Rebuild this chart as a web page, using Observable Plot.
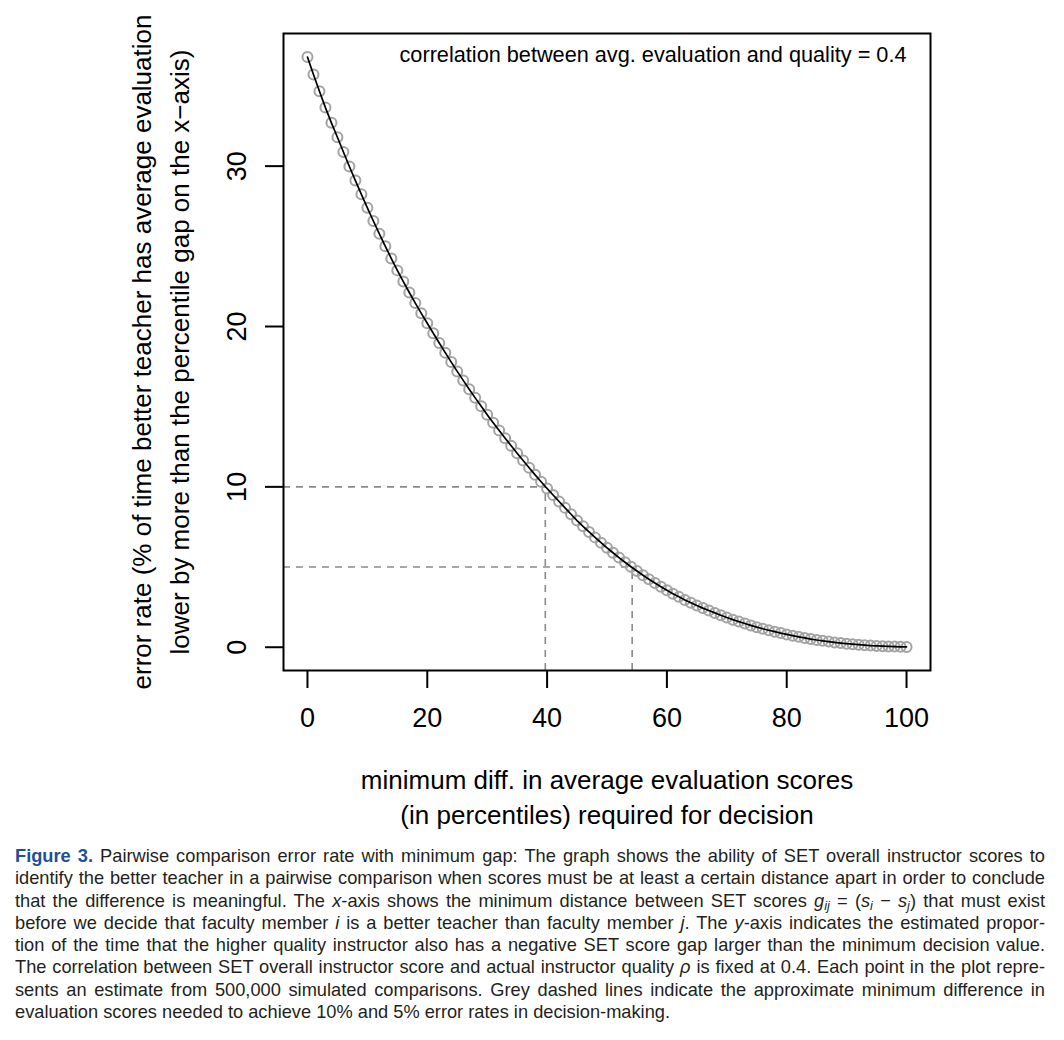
<!DOCTYPE html>
<html>
<head>
<meta charset="utf-8">
<script src="https://cdn.jsdelivr.net/npm/d3@7"></script>
<script src="https://cdn.jsdelivr.net/npm/@observablehq/plot@0.6"></script>
<style>
  html, body { margin: 0; padding: 0; background: #fff; }
  #chart svg { display: block; }
  #cap {
    font-family: "Liberation Sans", Arial, sans-serif;
    font-size: 19px;
    line-height: 22.3px;
    color: #231f20;
    margin-left: 15px;
    transform-origin: 0 0;
  }
  #cap .ln { white-space: nowrap; display: block; }
  #cap .ln span.in { display: inline-block; transform-origin: 0 50%; }
  #cap .fig { color: #1f4e9c; font-weight: bold; }
  #cap sub { font-size: 70%; vertical-align: -0.25em; line-height: 0; }
</style>
</head>
<body>
<div id="chart"></div>
<div id="cap"></div>
<script>
// ---------- data ----------
const gap = [0,1,2,3,4,5,6,7,8,9,10,11,12,13,14,15,16,17,18,19,20,21,22,23,24,25,26,27,28,29,30,
  31,32,33,34,35,36,37,38,39,40,41,42,43,44,45,46,47,48,49,50,51,52,53,54,55,56,57,58,59,60,
  61,62,63,64,65,66,67,68,69,70,71,72,73,74,75,76,77,78,79,80,81,82,83,84,85,86,87,88,89,90,
  91,92,93,94,95,96,97,98,99,100];
const errorRate = [36.8,35.72,34.67,33.65,32.7,31.8,30.88,29.98,29.1,28.24,27.4,
  26.58,25.78,25.0,24.24,23.5,22.8,22.12,21.46,20.82,20.2,
  19.58,18.97,18.37,17.78,17.2,16.64,16.09,15.55,15.02,14.5,
  14.0,13.51,13.03,12.56,12.1,11.64,11.19,10.75,10.32,9.9,
  9.49,9.09,8.69,8.29,7.9,7.54,7.19,6.85,6.52,6.2,
  5.89,5.59,5.3,5.02,4.75,4.49,4.24,4.0,3.77,3.55,
  3.34,3.14,2.95,2.77,2.6,2.44,2.29,2.14,1.99,1.85,
  1.72,1.6,1.48,1.36,1.25,1.15,1.06,0.97,0.88,0.8,
  0.72,0.65,0.58,0.51,0.45,0.4,0.35,0.3,0.26,0.22,
  0.19,0.16,0.13,0.1,0.08,0.064,0.05,0.038,0.028,0.02];
const refRates = [10, 5];
const refGaps = [39.7, 54.2];
const xTicks = [0, 20, 40, 60, 80, 100];
const yTicks = [0, 10, 20, 30];
const annotation = ["correlation between avg. evaluation and quality = 0.4"];
const xTitle = ["minimum diff. in average evaluation scores", "(in percentiles) required for decision"];
const yTitle = ["error rate (% of time better teacher has average evaluation", "lower by more than the percentile gap on the x\u2212axis)"];
const captionLines = [
  '<span class="fig">Figure 3.</span> Pairwise comparison error rate with minimum gap: The graph shows the ability of SET overall instructor scores to',
  'identify the better teacher in a pairwise comparison when scores must be at least a certain distance apart in order to conclude',
  'that the difference is meaningful. The <i>x</i>-axis shows the minimum distance between SET scores <i>g<sub>ij</sub></i> = (<i>s<sub>i</sub></i> \u2212 <i>s<sub>j</sub></i>) that must exist',
  'before we decide that faculty member <i>i</i> is a better teacher than faculty member <i>j</i>. The <i>y</i>-axis indicates the estimated propor-',
  'tion of the time that the higher quality instructor also has a negative SET score gap larger than the minimum decision value.',
  'The correlation between SET overall instructor score and actual instructor quality <i>\u03c1</i> is fixed at 0.4. Each point in the plot repre-',
  'sents an estimate from 500,000 simulated comparisons. Grey dashed lines indicate the approximate minimum difference in',
  'evaluation scores needed to achieve 10% and 5% error rates in decision-making.'
];

// ---------- chart ----------
const data = gap.map((g, i) => ({g, e: errorRate[i]}));
const refs = refRates.map((t, i) => ({t, g: refGaps[i]}));
const pad = ([a, b]) => [a - 0.04 * (b - a), b + 0.04 * (b - a)];
const xDom = pad(d3.extent(gap));
const yDom = pad(d3.extent(errorRate));
const FONT = '"Liberation Sans", Arial, Helvetica, sans-serif';

const chart = Plot.plot({
  width: 1064,
  height: 845,
  marginLeft: 283,
  marginRight: 134,
  marginTop: 33,
  marginBottom: 175,
  style: {fontFamily: FONT, background: "#fff", color: "#000"},
  x: {domain: xDom},
  y: {domain: yDom},
  marks: [
    Plot.ruleY(refs, {y: "t", x1: xDom[0], x2: "g", stroke: "#8a8a8a", strokeWidth: 1.6, strokeDasharray: "7,6"}),
    Plot.ruleX(refs, {x: "g", y1: yDom[0], y2: "t", stroke: "#8a8a8a", strokeWidth: 1.6, strokeDasharray: "7,6"}),
    Plot.dot(data, {x: "g", y: "e", r: 5, stroke: "#a3a3a3", strokeWidth: 2, fill: "none"}),
    Plot.line(data, {x: "g", y: "e", stroke: "#000", strokeWidth: 1.7}),
    Plot.frame({stroke: "#000", strokeWidth: 2}),
    Plot.axisX(xTicks, {tickSize: 18, tickPadding: 19, fontSize: 27, label: null, strokeWidth: 2}),
    Plot.axisY(yTicks, {tickSize: 18, tickFormat: () => "", label: null, strokeWidth: 2}),
    Plot.text(yTicks, {y: d => d, frameAnchor: "left", dx: -46, rotate: -90, textAnchor: "middle", lineAnchor: "middle", text: d => String(d), fontSize: 27}),
    Plot.text(annotation, {frameAnchor: "top-right", dx: -24, dy: 22, textAnchor: "end", lineAnchor: "middle", text: d => d, fontSize: 21.7}),
    Plot.text([xTitle[0]], {frameAnchor: "bottom", dy: 110, textAnchor: "middle", lineAnchor: "middle", text: d => d, fontSize: 26}),
    Plot.text([xTitle[1]], {frameAnchor: "bottom", dy: 145, textAnchor: "middle", lineAnchor: "middle", text: d => d, fontSize: 26}),
    Plot.text([yTitle[0]], {frameAnchor: "left", dx: -141, rotate: -90, textAnchor: "middle", lineAnchor: "middle", text: d => d, fontSize: 26}),
    Plot.text([yTitle[1]], {frameAnchor: "left", dx: -103, rotate: -90, textAnchor: "middle", lineAnchor: "middle", text: d => d, fontSize: 26})
  ]
});
document.getElementById("chart").appendChild(chart);

// ---------- caption ----------
const cap = document.getElementById("cap");
const K = 0.96;               // horizontal condensing of the caption face
const target = 1030 / K;      // justified line width before condensing
cap.style.width = target + "px";
cap.style.transform = `scaleX(${K})`;
captionLines.forEach((html, i) => {
  const ln = document.createElement("div");
  ln.className = "ln";
  const sp = document.createElement("span");
  sp.className = "in";
  sp.innerHTML = html;
  ln.appendChild(sp);
  cap.appendChild(ln);
  if (i < captionLines.length - 1) {
    const w = sp.getBoundingClientRect().width / K;
    const spaces = (sp.textContent.match(/ /g) || []).length;
    if (w < target && spaces > 0) {
      sp.style.wordSpacing = ((target - w) / spaces) + "px";
    } else if (w > target) {
      sp.style.transform = `scaleX(${target / w})`;
    }
  }
});
</script>
</body>
</html>
